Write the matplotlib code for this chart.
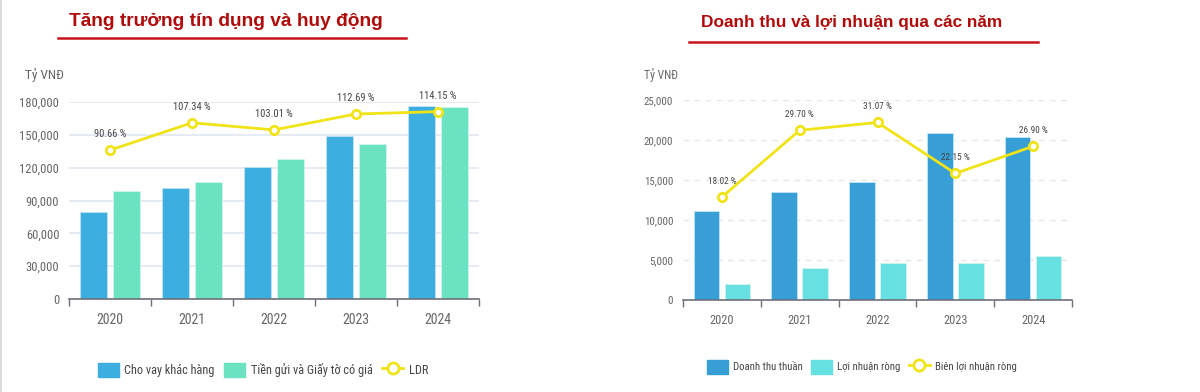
import matplotlib
matplotlib.use('Agg')
import os
import numpy as np
import matplotlib.pyplot as plt
from matplotlib import font_manager as fm
from matplotlib.patches import Patch
from matplotlib.lines import Line2D

# ---------------- data ----------------
years = ['2020', '2021', '2022', '2023', '2024']
loans = [79500, 101400, 120600, 148900, 176300]
deposits = [98700, 106900, 127900, 141600, 175400]
ldr = [90.66, 107.34, 103.01, 112.69, 114.15]

revenue = [11100, 13500, 14750, 20900, 20400]
net_profit = [2000, 4000, 4600, 4600, 5500]
margin = [18.02, 29.70, 31.07, 22.15, 26.90]

left_ticks = [0, 30000, 60000, 90000, 120000, 150000, 180000]
right_ticks = [0, 5000, 10000, 15000, 20000, 25000]

# ---------------- fonts ----------------
plt.rcParams['font.family'] = ['Liberation Sans', 'DejaVu Sans']
prefs = ['liberationsansnarrow-regular', 'robotocondensed-regular',
         'dejavusanscondensed.', 'opensans_condensed', 'opensans-condensed']
cond_path = None
allf = [f.fname for f in fm.fontManager.ttflist]
for p in prefs:
    for fn in allf:
        if p in os.path.basename(fn).lower().replace(' ', ''):
            cond_path = fn
            break
    if cond_path:
        break
if cond_path is None:
    for fn in allf:
        b = os.path.basename(fn).lower()
        if ('condensed' in b or 'narrow' in b) and 'bold' not in b and 'italic' not in b \
                and 'oblique' not in b and 'light' not in b and 'thin' not in b:
            cond_path = fn
            break
CONDENSED = cond_path is not None


def fp(size):
    if CONDENSED:
        return fm.FontProperties(fname=cond_path, size=size)
    return fm.FontProperties(family=['Liberation Sans', 'DejaVu Sans'], size=size * 0.8)


W, H = 1200, 392
fig = plt.figure(figsize=(W / 100, H / 100), dpi=100)
fig.patch.set_facecolor('white')


def fx(px):
    return px / W


def fy(py):
    return 1 - py / H


GRAY = '#6E7079'
TXT = '#666666'
YELLOW = '#F0E418'
RED = '#B00A0A'


def panel(box, s1, s2, c1, c2, names3, yticks, line, line_max, dashed,
          legend_xy, title, title_xy, title_size, ul, k):
    x0, y0, x1, y1 = box
    ax = fig.add_axes([fx(x0), fy(y1), (x1 - x0) / W, (y1 - y0) / H])
    x = np.arange(len(years))
    bw = 0.33
    ax.bar(x - 0.2, s1, bw, color=c1, edgecolor='#BFE6F6', linewidth=0.6, zorder=3)
    ax.bar(x + 0.2, s2, bw, color=c2, edgecolor='#D0F5EE', linewidth=0.6, zorder=3)
    ax.set_xlim(-0.5, len(years) - 0.5)
    ax.set_ylim(0, yticks[-1])
    ax.set_yticks(yticks)
    ax.set_yticklabels([f'{v:,}' for v in yticks], color=TXT)
    for t in ax.get_yticklabels():
        t.set_fontproperties(fp(9 * k))
    ax.tick_params(axis='y', length=0, pad=7)
    ax.set_xticks(x)
    ax.set_xticklabels(years, color=TXT)
    for t in ax.get_xticklabels():
        t.set_fontproperties(fp(10 * k))
    ax.tick_params(axis='x', which='major', length=0, pad=10)
    ax.set_xticks(np.arange(-0.5, len(years), 1), minor=True)
    ax.tick_params(axis='x', which='minor', length=5, color=GRAY, width=1)
    for sp in ['top', 'right', 'left']:
        ax.spines[sp].set_visible(False)
    ax.spines['bottom'].set_color(GRAY)
    ax.spines['bottom'].set_linewidth(1.2)
    ax.spines['bottom'].set_zorder(4)
    if dashed:
        ax.grid(axis='y', color='#E6E6E6', linestyle=(0, (4, 4)), linewidth=1, zorder=0)
    else:
        ax.grid(axis='y', color='#E2E7F1', linewidth=1.2, zorder=0)
    ax.set_axisbelow(True)
    ax.text(-0.012, 1 + (y0 - 75) / (y1 - y0), 'Tỷ VNĐ', transform=ax.transAxes,
            ha='right', va='center', color=TXT, fontproperties=fp(9.5 * k))

    ax2 = ax.twinx()
    ax2.set_ylim(0, line_max)
    ax2.set_axis_off()
    ax2.plot(x, line, color=YELLOW, linewidth=2, marker='o', markersize=6,
             markerfacecolor='white', markeredgecolor=YELLOW, markeredgewidth=2,
             zorder=5)
    for xi, v in zip(x, line):
        ax2.annotate(f'{v:.2f} %', (xi, v), xytext=(0, 11.5), textcoords='offset points',
                     ha='center', va='center', fontproperties=fp(7.6 * k), color='#444444',
                     annotation_clip=False)

    handles = [Patch(facecolor=c1, edgecolor=c1),
               Patch(facecolor=c2, edgecolor=c2),
               Line2D([0], [0], color=YELLOW, lw=2, marker='o', markersize=8,
                      markerfacecolor='white', markeredgecolor=YELLOW, markeredgewidth=2)]
    fig.legend(handles, names3, loc='center', ncol=3, frameon=False,
               bbox_to_anchor=(fx(legend_xy[0]), fy(legend_xy[1])),
               prop=fp(8.8 * k), handlelength=1.7 / k, handleheight=1.5 / k,
               handletextpad=0.45, columnspacing=0.8, labelcolor='#444444')

    fig.text(fx(title_xy[0]), fy(title_xy[1]), title, ha='center', va='center',
             fontsize=title_size, fontweight='bold', color=RED,
             family=['Liberation Sans', 'DejaVu Sans'])
    fig.add_artist(Line2D([fx(ul[0]), fx(ul[1])], [fy(ul[2]), fy(ul[2])],
                          color='#C8141B', lw=1.8))


panel((69, 102, 479, 299), loans, deposits, '#3DAEE0', '#6BE3C1',
      ['Cho vay khác hàng', 'Tiền gửi và Giấy tờ có giá', 'LDR'],
      left_ticks, ldr, 120, False, (263, 370),
      'Tăng trưởng tín dụng và huy động', (226, 22), 13.8, (58, 406, 38), 1.0)

panel((683, 100, 1072, 300), revenue, net_profit, '#389FD6', '#67E0E2',
      ['Doanh thu thuần', 'Lợi nhuận ròng', 'Biên lợi nhuận ròng'],
      right_ticks, margin, 35, True, (862, 367),
      'Doanh thu và lợi nhuận qua các năm', (852, 23), 12.4, (689, 1038, 42), 0.88)

fig.add_artist(Line2D([fx(1), fx(1)], [0, 1], color='#DDDDDD', lw=1.5))

fig.savefig('out.png', dpi=100, facecolor='white')
